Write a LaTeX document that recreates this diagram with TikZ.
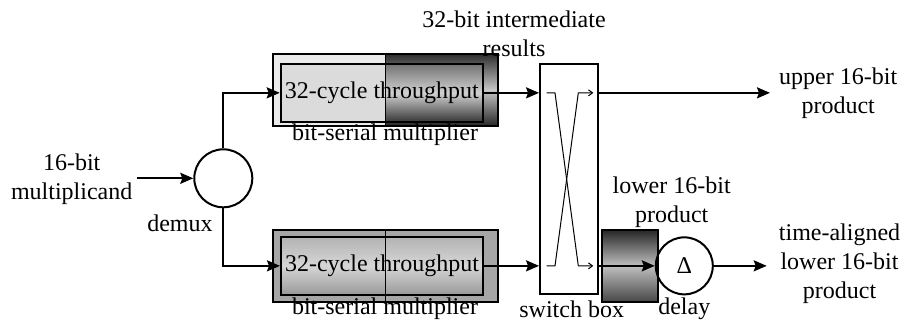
\documentclass[tikz,border=0pt]{standalone}
\usepackage{fontspec}
\setmainfont{Liberation Serif}
\newfontfamily\tnrfont{Liberation Serif}
\usetikzlibrary{arrows.meta}
\begin{document}
\begin{tikzpicture}[x=1pt,y=-1pt,
  every node/.style={font=\tnrfont\fontsize{24}{29}\selectfont, inner sep=0pt},
  lbl/.style={align=center},
  boxline/.style={draw, line width=2pt},
  arr/.style={line width=2pt, -{Stealth[length=13pt,width=11pt,inset=2pt]}},
  xarr/.style={line width=1pt, -{Straight Barb[length=4pt,width=6pt]}},
  darkouter/.style={top color=black!82, bottom color=black!85, middle color=black!22},
  darkinner/.style={top color=black!55, bottom color=black!78, middle color=black!18},
  grayinner/.style={top color=black!30, bottom color=black!40, middle color=black!16},
  lpbox/.style={top color=black!85, bottom color=black!72, middle color=black!25}]
\useasboundingbox (0,0) rectangle (907,325);

% ---- top multiplier fills
\fill[black!8] (273,54) rectangle (385.7,126);
\shade[darkouter] (385.7,54) rectangle (497.7,126);
\fill[black!14] (280.7,64) rectangle (385.7,121.7);
\shade[darkinner] (385.7,64) rectangle (483,121.7);
\draw[line width=1.5pt] (385.7,54) -- (385.7,126);
\node[boxline, minimum width=224.7pt, minimum height=72pt] (tmo) at (385.35,90) {};
\node[boxline, minimum width=202.3pt, minimum height=57.7pt] (tmi) at (381.85,92.85) {32-cycle throughput};
\node[lbl] (tml) at (385,135) {bit-serial multiplier};

% ---- bottom multiplier fills
\fill[black!35] (273,230) rectangle (498,301.7);
\shade[grayinner] (281,236.7) rectangle (483,295);
\draw[line width=1.5pt] (385.7,230) -- (385.7,301.7);
\node[boxline, minimum width=225pt, minimum height=71.7pt] (bmo) at (385.5,265.85) {};
\node[boxline, minimum width=202pt, minimum height=58.3pt] (bmi) at (382,265.85) {32-cycle throughput};
\node[lbl] (bml) at (385,309) {bit-serial multiplier};

% ---- input and demux
\node[lbl] (inl) at (71.7,179) {16-bit\\multiplicand};
\coordinate (src) at (136.7,178.3);
\node[circle, boxline, minimum size=58pt] (dmx) at (223.3,178.3) {};
\node (dml) at (180,223) {demux};
\draw[arr] (src) -- (dmx.west);
\draw[arr] (dmx.north) |- (tmi.west);
\draw[arr] (dmx.south) |- (bmi.west);

% ---- switch box
\node[boxline, minimum width=58.3pt, minimum height=230.3pt] (sw) at (569.2,179.2) {};
\node (swl) at (571.7,309) {switch box};
\draw[arr] (tmi.east) -- (tmi.east -| sw.west);
\draw[arr] (bmi.east) -- (bmi.east -| sw.west);
\draw[xarr] (546.7,92.85) -- (555,92.85) -- (578.3,265.85) -- (593.3,265.85);
\draw[xarr] (546.7,265.85) -- (555,265.85) -- (578.3,92.85) -- (593.3,92.85);

% ---- top output
\node[lbl, anchor=west, inner xsep=9pt] (upr) at (770,93.5) {upper 16-bit\\product};
\draw[arr] (tmi.east -| sw.east) -- (tmi.east -| upr.west);

% ---- lower product box and delay
\shade[lpbox] (601.7,230) rectangle (657.7,301.7);
\node[boxline, minimum width=56pt, minimum height=71.7pt] (lpb) at (629.7,265.85) {};
\node[lbl] (lpl) at (671.7,202) {lower 16-bit\\product};
\node[circle, boxline, minimum size=57pt] (dly) at (684.3,265.85) {Δ};
\node (dll) at (684.3,309) {delay};
\draw[arr] (bmi.east -| sw.east) -- (dly.west);
\node[lbl, anchor=west, inner xsep=12pt] (tal) at (766.7,263.5) {time-aligned\\lower 16-bit\\product};
\draw[arr] (dly.east) -- (dly.east -| tal.west);

% ---- top label
\node[lbl] (irl) at (514,33.5) {32-bit intermediate\\results};
\end{tikzpicture}
\end{document}
